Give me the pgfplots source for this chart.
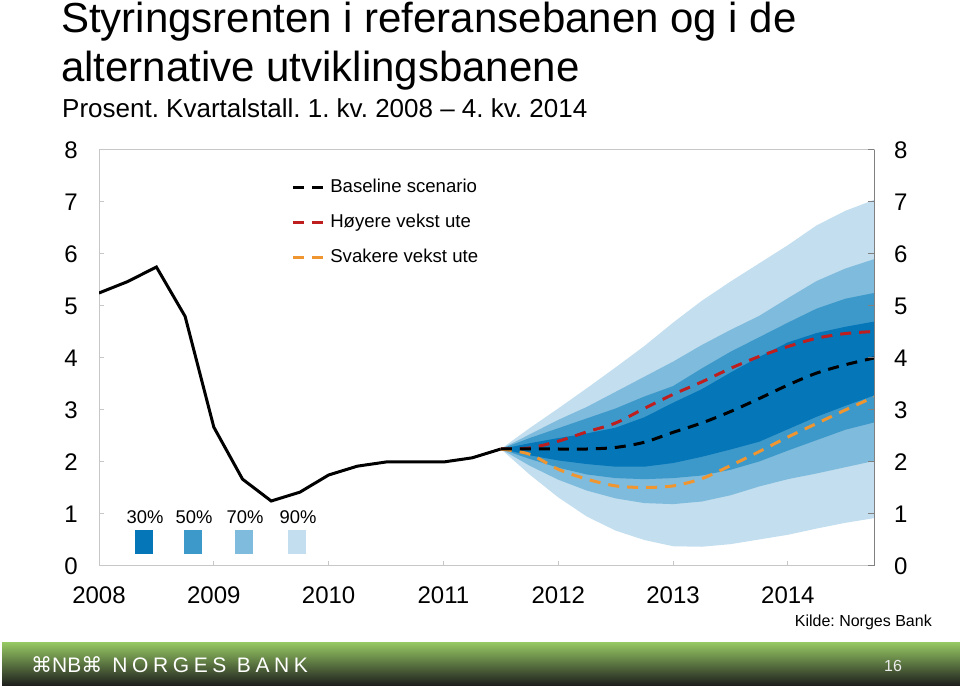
\documentclass[border=0pt]{standalone}
\usepackage{fontspec}
\setmainfont{Liberation Sans}
\newfontfamily\symfont{DejaVu Sans}
\newfontfamily\nbfont[LetterSpace=22]{Liberation Sans}
\usepackage{pgfplots}
\usepackage{pgfplotstable}
\pgfplotsset{compat=1.18}
\frenchspacing

\definecolor{c30}{RGB}{5,118,184}
\definecolor{c50}{RGB}{62,153,203}
\definecolor{c70}{RGB}{127,187,220}
\definecolor{c90}{RGB}{194,222,239}
\definecolor{nbred}{RGB}{190,30,30}
\definecolor{nborange}{RGB}{240,150,48}
\definecolor{bngreen}{RGB}{148,198,98}
\definecolor{bnmid}{RGB}{72,98,52}
\definecolor{bndark}{RGB}{28,28,28}

\pgfplotstableread{
x y
0 5.25
1 5.47
2 5.75
3 4.80
4 2.67
5 1.67
6 1.25
7 1.42
8 1.75
9 1.92
10 2.00
11 2.00
12 2.00
13 2.08
14 2.25
}\hist

\pgfplotstableread{
x base red orange
14 2.25 2.25 2.25
15 2.25 2.27 2.15
16 2.25 2.40 1.86
17 2.25 2.58 1.67
18 2.28 2.75 1.54
19 2.38 3.03 1.51
20 2.57 3.30 1.54
21 2.75 3.54 1.68
22 2.97 3.80 1.93
23 3.22 4.03 2.20
24 3.48 4.22 2.48
25 3.71 4.38 2.74
26 3.87 4.47 3.00
27 4.00 4.51 3.25
}\paths

% fan bands: upper bound forward, lower bound backward
\pgfplotstableread{
x y
14 2.25
15 2.65
16 3.03
17 3.42
18 3.82
19 4.23
20 4.68
21 5.10
22 5.47
23 5.82
24 6.17
25 6.55
26 6.83
27 7.04
27 0.92
26 0.83
25 0.72
24 0.60
23 0.51
22 0.42
21 0.37
20 0.38
19 0.50
18 0.68
17 0.95
16 1.32
15 1.76
14 2.25
}\bandninety

\pgfplotstableread{
x y
14 2.25
15 2.53
16 2.81
17 3.06
18 3.35
19 3.64
20 3.93
21 4.25
22 4.54
23 4.81
24 5.15
25 5.48
26 5.72
27 5.90
27 2.02
26 1.90
25 1.78
24 1.67
23 1.53
22 1.36
21 1.24
20 1.19
19 1.21
18 1.30
17 1.45
16 1.66
15 1.93
14 2.25
}\bandseventy

\pgfplotstableread{
x y
14 2.25
15 2.46
16 2.65
17 2.84
18 3.03
19 3.26
20 3.46
21 3.80
22 4.12
23 4.40
24 4.68
25 4.95
26 5.14
27 5.25
27 2.76
26 2.62
25 2.42
24 2.22
23 2.01
22 1.85
21 1.74
20 1.69
19 1.67
18 1.69
17 1.76
16 1.89
15 2.06
14 2.25
}\bandfifty

\pgfplotstableread{
x y
14 2.25
15 2.36
16 2.46
17 2.55
18 2.66
19 2.86
20 3.14
21 3.40
22 3.72
23 4.02
24 4.30
25 4.48
26 4.60
27 4.70
27 3.28
26 3.08
25 2.87
24 2.63
23 2.39
22 2.24
21 2.10
20 1.98
19 1.91
18 1.91
17 1.96
16 2.03
15 2.13
14 2.25
}\bandthirty

\begin{document}
\begin{tikzpicture}
\path[use as bounding box] (0bp,0bp) rectangle (960bp,686bp);

% titles
\node[anchor=base west, inner sep=0pt] at (61bp,653bp) {\fontsize{42bp}{48bp}\selectfont Styringsrenten i referansebanen og i de};
\node[anchor=base west, inner sep=0pt] at (61bp,604bp) {\fontsize{42bp}{48bp}\selectfont alternative utviklingsbanene};
\node[anchor=base west, inner sep=0pt] at (62bp,568bp) {\fontsize{26bp}{30bp}\selectfont Prosent. Kvartalstall. 1. kv. 2008 -- 4. kv. 2014};

\begin{axis}[
  at={(99bp,120bp)}, anchor=south west,
  scale only axis, width=775bp, height=416bp,
  xmin=0, xmax=27, ymin=0, ymax=8,
  axis line style={draw=black!22, line width=1bp},
  tick style={draw=black!22, line width=1bp},
  major tick length=5bp, tick align=inside,
  xtick={0,4,8,12,16,20,24},
  xticklabels={2008,2009,2010,2011,2012,2013,2014},
  xtick pos=bottom, ytick pos=left,
  ytick={0,1,2,3,4,5,6,7,8},
  ticklabel style={font=\fontsize{24bp}{28bp}\selectfont},
  /pgf/number format/assume math mode=true,
  yticklabel style={inner sep=0pt, anchor=east, xshift=-21bp},
  xticklabel style={inner sep=0pt, anchor=north, yshift=-21bp},
  legend style={at={(0.244,0.942)}, anchor=north west, draw=none, fill=none,
    font=\fontsize{18.6bp}{22bp}\selectfont,
    nodes={inner sep=2bp, text height=14bp, text depth=4bp},
    row sep=13bp,
    /tikz/every odd column/.append style={column sep=2bp}},
  legend cell align=left,
  legend image code/.code={\draw[#1] (0bp,0bp) -- (32bp,0bp);},
]
\addplot[fill=c90, draw=none, forget plot] table[x=x,y=y]{\bandninety} -- cycle;
\addplot[fill=c70, draw=none, forget plot] table[x=x,y=y]{\bandseventy} -- cycle;
\addplot[fill=c50, draw=none, forget plot] table[x=x,y=y]{\bandfifty} -- cycle;
\addplot[fill=c30, draw=none, forget plot] table[x=x,y=y]{\bandthirty} -- cycle;

\addplot[black, line width=3bp, forget plot] table[x=x,y=y]{\hist};
\addplot[nbred, line width=3bp, dash pattern=on 11bp off 8bp, smooth, forget plot] table[x=x,y=red]{\paths};
\addplot[nborange, line width=3bp, dash pattern=on 11bp off 8bp, smooth, forget plot] table[x=x,y=orange]{\paths};
\addplot[black, line width=3bp, dash pattern=on 11bp off 8bp, smooth, forget plot] table[x=x,y=base]{\paths};

\addlegendimage{black, line width=3bp, dash pattern=on 11bp off 8bp}
\addlegendentry{Baseline scenario}
\addlegendimage{nbred, line width=3bp, dash pattern=on 11bp off 8bp}
\addlegendentry{Høyere vekst ute}
\addlegendimage{nborange, line width=3bp, dash pattern=on 11bp off 8bp}
\addlegendentry{Svakere vekst ute}
\end{axis}

\begin{axis}[
  at={(99bp,120bp)}, anchor=south west,
  scale only axis, width=775bp, height=416bp,
  xmin=0, xmax=27, ymin=0, ymax=8,
  axis x line=none, axis y line*=right,
  axis line style={draw=black!50, line width=1bp, -},
  tick style={draw=black!50, line width=1bp},
  major tick length=6bp, tick align=inside,
  ytick={0,1,2,3,4,5,6,7,8},
  ticklabel style={font=\fontsize{24bp}{28bp}\selectfont},
  /pgf/number format/assume math mode=true,
  yticklabel style={inner sep=0pt, anchor=west, xshift=20bp},
]
\addplot[draw=none] coordinates {(0,0) (27,8)};
\end{axis}

% fan-chart percentile key
\foreach \cx/\lab/\col in {144/30/c30,193/50/c50,244/70/c70,297/90/c90}{
  \node[anchor=base, inner sep=0pt] at (\cx bp+1bp,162bp) {\fontsize{18.4bp}{22bp}\selectfont \lab\%};
  \fill[\col] (\cx bp-9bp,132bp) rectangle (\cx bp+9bp,155.5bp);
}

% source
\node[anchor=base east, inner sep=0pt] at (932bp,59bp) {\fontsize{16bp}{19bp}\selectfont Kilde: Norges Bank};

% banner
\shade[top color=bngreen, middle color=bnmid, bottom color=bndark] (2bp,0bp) rectangle (960bp,43bp);
\node[anchor=base west, inner sep=0pt, text=white] at (31bp,14bp) {\fontsize{21bp}{24bp}\selectfont{\symfont ⌘}NB{\symfont ⌘}\hspace{10bp}\nbfont NORGES BANK};
\node[anchor=base, inner sep=0pt, text=black!8] at (893bp,15bp) {\fontsize{16bp}{19bp}\selectfont 16};
\end{tikzpicture}
\end{document}
